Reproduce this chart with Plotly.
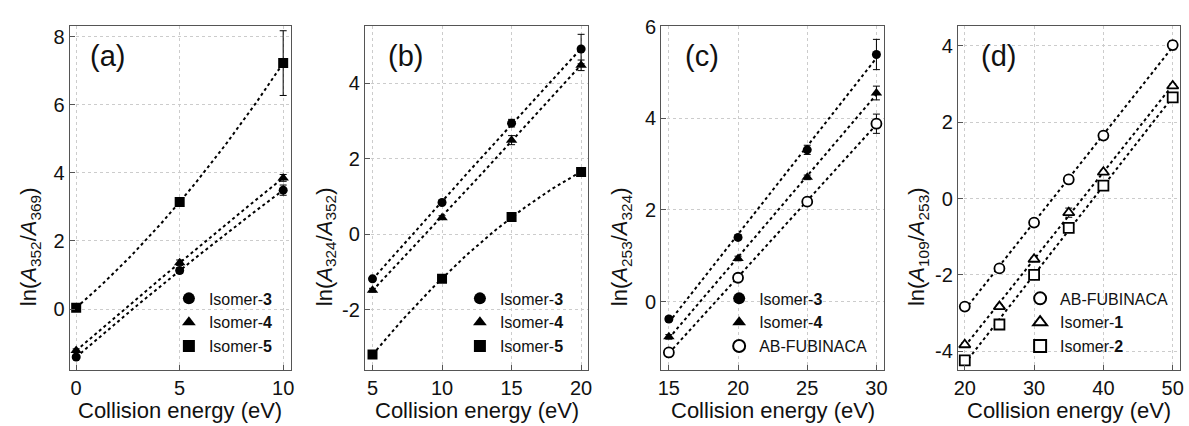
import numpy as np
import plotly.graph_objects as go

# ---------------- data ----------------
# panel (a): ln(A352/A369)
a_x = [0, 5, 10]
a_iso3 = [-1.41, 1.13, 3.49]
a_iso3_err = [0.05, 0.08, 0.15]
a_iso4 = [-1.22, 1.36, 3.85]
a_iso4_err = [0.05, 0.08, 0.10]
a_iso5 = [0.04, 3.14, 7.22]
a_iso5_err = [0.05, 0.10, 0.95]

# panel (b): ln(A324/A352)
b_x = [5, 10, 15, 20]
b_iso3 = [-1.18, 0.84, 2.94, 4.90]
b_iso3_err = [0.05, 0.05, 0.10, 0.39]
b_iso4 = [-1.48, 0.44, 2.49, 4.47]
b_iso4_err = [0.05, 0.05, 0.12, 0.14]
b_iso5 = [-3.18, -1.18, 0.46, 1.65]
b_iso5_err = [0.05, 0.05, 0.05, 0.05]

# panel (c): ln(A253/A324)
c_x = [15, 20, 25, 30]
c_iso3 = [-0.38, 1.40, 3.31, 5.39]
c_iso3_err = [0.05, 0.05, 0.10, 0.33]
c_iso4 = [-0.77, 0.94, 2.71, 4.55]
c_iso4_err = [0.05, 0.05, 0.05, 0.15]
c_ab = [-1.11, 0.52, 2.18, 3.88]
c_ab_err = [0.05, 0.05, 0.05, 0.21]

# panel (d): ln(A109/A253)
d_x = [20, 25, 30, 35, 40, 50]
d_ab = [-2.83, -1.83, -0.63, 0.50, 1.65, 4.02]
d_ab_err = [0.05, 0.05, 0.05, 0.05, 0.05, 0.12]
d_iso1 = [-3.83, -2.83, -1.59, -0.37, 0.69, 2.95]
d_iso1_err = [0.05, 0.05, 0.05, 0.12, 0.05, 0.05]
d_iso2 = [-4.24, -3.30, -2.00, -0.77, 0.34, 2.65]
d_iso2_err = [0.05, 0.05, 0.05, 0.05, 0.05, 0.05]

# tick labels
a_xticks = [0, 5, 10]
a_yticks = [0, 2, 4, 6, 8]
b_xticks = [5, 10, 15, 20]
b_yticks = [-2, 0, 2, 4]
c_xticks = [15, 20, 25, 30]
c_yticks = [0, 2, 4, 6]
d_xticks = [20, 30, 40, 50]
d_yticks = [-4, -2, 0, 2, 4]

panel_labels = ["(a)", "(b)", "(c)", "(d)"]
y_titles = [
    "ln(<i>A</i><sub>352</sub>/<i>A</i><sub>369</sub>)",
    "ln(<i>A</i><sub>324</sub>/<i>A</i><sub>352</sub>)",
    "ln(<i>A</i><sub>253</sub>/<i>A</i><sub>324</sub>)",
    "ln(<i>A</i><sub>109</sub>/<i>A</i><sub>253</sub>)",
]
x_title = "Collision energy (eV)"

# ---------------- figure ----------------
W, H = 1189, 426
FONT = "Arial, Liberation Sans, sans-serif"
fig = go.Figure()

x_domains = [(66, 289), (363.3, 588.3), (661.7, 886), (960.3, 1184.3)]
y_dom = [1 - 369 / H, 1 - 16 / H]
x_ranges = [[-0.32, 10.38], [4.45, 20.52], [14.45, 30.55], [19.0, 51.1]]
y_ranges = [[-1.8, 8.32], [-3.6, 5.52], [-1.5, 6.02], [-4.5, 4.53]]
xticks_all = [a_xticks, b_xticks, c_xticks, d_xticks]
yticks_all = [a_yticks, b_yticks, c_yticks, d_yticks]


def fill_m(sym, size):
    return dict(symbol=sym, color="black", size=size, line=dict(width=0))


def open_m(sym, size):
    return dict(symbol=sym, color="white", size=size, line=dict(color="black", width=1.8))


panels = [
    (a_x, [("Isomer-<b>3</b>", a_iso3, a_iso3_err, fill_m("circle", 9)),
           ("Isomer-<b>4</b>", a_iso4, a_iso4_err, fill_m("triangle-up", 10)),
           ("Isomer-<b>5</b>", a_iso5, a_iso5_err, fill_m("square", 10))], 2),
    (b_x, [("Isomer-<b>3</b>", b_iso3, b_iso3_err, fill_m("circle", 9)),
           ("Isomer-<b>4</b>", b_iso4, b_iso4_err, fill_m("triangle-up", 10)),
           ("Isomer-<b>5</b>", b_iso5, b_iso5_err, fill_m("square", 10))], 2),
    (c_x, [("Isomer-<b>3</b>", c_iso3, c_iso3_err, fill_m("circle", 9)),
           ("Isomer-<b>4</b>", c_iso4, c_iso4_err, fill_m("triangle-up", 10)),
           ("AB-FUBINACA", c_ab, c_ab_err, open_m("circle", 10))], 1),
    (d_x, [("AB-FUBINACA", d_ab, d_ab_err, open_m("circle", 10)),
           ("Isomer-<b>1</b>", d_iso1, d_iso1_err, open_m("triangle-up", 10)),
           ("Isomer-<b>2</b>", d_iso2, d_iso2_err, open_m("square", 10))], 1),
]

legend_names = ["legend", "legend2", "legend3", "legend4"]
legend_text_x = [206, 499, 760, 1063]
legend_top = [278, 278, 278, 278]

for i, (xs, series, deg) in enumerate(panels):
    xa = "x" if i == 0 else f"x{i+1}"
    ya = "y" if i == 0 else f"y{i+1}"
    # fitted dotted curves
    for name, ys, err, mk in series:
        coef = np.polyfit(xs, ys, deg)
        xf = np.linspace(min(xs), max(xs), 60)
        fig.add_trace(go.Scatter(x=xf, y=np.polyval(coef, xf), mode="lines",
                                 line=dict(color="black", width=2, dash="dot"),
                                 showlegend=False, hoverinfo="skip", xaxis=xa, yaxis=ya))
    for name, ys, err, mk in series:
        fig.add_trace(go.Scatter(x=xs, y=ys, mode="markers", name=name, marker=mk,
                                 error_y=dict(type="data", array=err, color="black",
                                              thickness=1, width=3.5),
                                 legend=legend_names[i], xaxis=xa, yaxis=ya))

    x0, x1 = x_domains[i]
    axis_common = dict(showline=True, linecolor="#555555", linewidth=1, mirror=True,
                       ticks="inside", ticklen=5, tickcolor="#555555", tickwidth=1,
                       showgrid=True, gridcolor="#cccccc", griddash="dot", gridwidth=1,
                       zeroline=False, tickfont=dict(family=FONT, size=20, color="#111"))
    fig.layout[("xaxis" if i == 0 else f"xaxis{i+1}")] = dict(
        axis_common, domain=[x0 / W, x1 / W], range=x_ranges[i], anchor=ya,
        tickvals=xticks_all[i], ticktext=[str(t) for t in xticks_all[i]])
    fig.layout[("yaxis" if i == 0 else f"yaxis{i+1}")] = dict(
        axis_common, domain=y_dom, range=y_ranges[i], anchor=xa,
        tickvals=yticks_all[i], ticktext=[str(t) for t in yticks_all[i]])

    fig.layout[legend_names[i]] = dict(
        x=(legend_text_x[i] - 40) / W, y=1 - legend_top[i] / H, xanchor="left", yanchor="top",
        bgcolor="rgba(0,0,0,0)", font=dict(family=FONT, size=16, color="#111"),
        tracegroupgap=0, itemsizing="constant")

annotations = []
label_x = [104, 404, 703, 1001]
ytitle_x = [27, 324, 622, 921]
for i in range(4):
    x0, x1 = x_domains[i]
    annotations.append(dict(text=panel_labels[i], x=label_x[i] / W, y=1 - 47 / H,
                            xref="paper", yref="paper", showarrow=False,
                            xanchor="center", yanchor="middle",
                            font=dict(family=FONT, size=29, color="#111")))
    annotations.append(dict(text=y_titles[i], x=ytitle_x[i] / W, y=1 - 242 / H,
                            xref="paper", yref="paper", showarrow=False, textangle=-90,
                            xanchor="center", yanchor="middle",
                            font=dict(family=FONT, size=22, color="#111")))
    annotations.append(dict(text=x_title, x=(x0 + x1) / 2 / W, y=1 - 410 / H,
                            xref="paper", yref="paper", showarrow=False,
                            xanchor="center", yanchor="middle",
                            font=dict(family=FONT, size=22, color="#111")))

fig.update_layout(width=W, height=H, margin=dict(l=0, r=0, t=0, b=0),
                  paper_bgcolor="white", plot_bgcolor="white",
                  annotations=annotations, font=dict(family=FONT))
fig.write_html("out.html")
